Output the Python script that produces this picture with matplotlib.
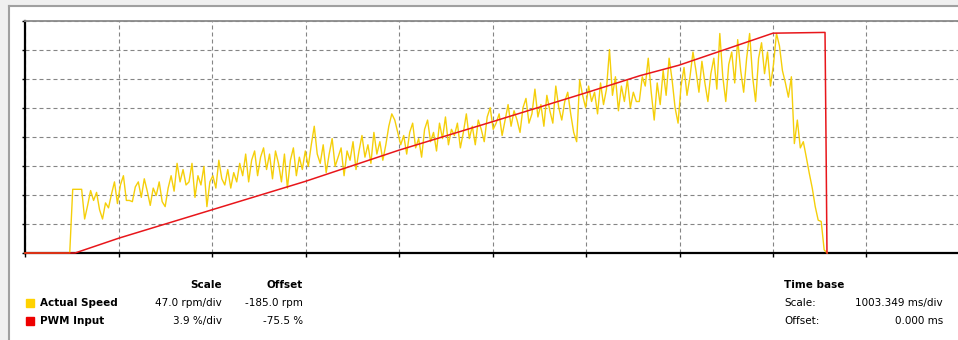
import numpy as np
import matplotlib
matplotlib.use("Agg")
import matplotlib.pyplot as plt
from matplotlib.lines import Line2D
from matplotlib.patches import Rectangle

# channel settings shown under the screen
speed_scale = 47.0      # rpm/div
speed_offset = -185.0   # rpm
pwm_scale = 3.9         # %/div
pwm_offset = -75.5      # %
time_scale = 1003.349   # ms/div
time_offset = 0.000     # ms
sample_ms = 32.0

# actual speed samples (rpm), one every sample_ms
speed_rpm = [0] * 16 + [
    288, 288, 288, 288, 240, 262, 286, 270, 283, 255, 240, 266, 258,
    280, 300, 265, 295, 310, 270, 270, 268, 292, 300, 275, 305, 285, 262, 290, 278, 300, 268, 260, 290,
    310, 285, 330, 300, 320, 295, 300, 330, 275, 310, 295, 325, 260, 300, 310, 290, 335, 305, 295, 320,
    290, 315, 300,
    330, 310, 345, 300, 335, 350, 310, 340, 355, 320, 345, 305, 350, 330, 300, 345, 290, 335, 355, 310,
    340, 320, 350, 325, 360, 390, 345,
    330, 360, 315, 345, 370, 325, 340, 355, 310, 350, 335, 365, 320, 350, 375, 340, 360, 330, 380, 345,
    365, 335, 360, 390, 410, 400, 380,
    360, 375, 345, 380, 395, 355, 370, 340, 385, 400, 365, 380, 350, 395, 370, 405, 360, 385, 375, 395,
    355, 380, 410, 370, 390, 360, 400, 385, 365, 405,
    420, 385, 395, 410, 375, 400, 425, 390, 415, 400, 380, 420, 435, 395, 410, 450, 405, 425, 390, 440,
    415, 395, 455, 420, 400, 430, 445, 410, 380, 365,
    465, 440, 420, 455, 430, 445, 410, 460, 425, 450, 514, 440, 470, 415, 455, 430, 465, 420, 445, 430,
    430, 470, 455, 500, 445, 400, 460, 425, 480, 440, 500, 465, 420, 395, 455, 485, 440, 470, 510, 480,
    445, 495, 460, 430, 475, 500, 450,
    540, 470, 430, 490, 510, 460, 530, 480, 445, 500, 540, 470, 430, 500, 525, 475, 510, 455, 490, 540,
    520, 480, 460,
    437, 470, 362, 400, 355, 365, 340, 314, 290, 260, 238, 236, 190, 0,
]

# PWM input ramp (ms, %)
pwm_time_ms = [0, 530, 537, 1009, 2007, 3005, 4013, 5011, 6020, 6600, 7018, 8027, 8585, 8596, 8606]
pwm_pct = [0, 0, 75.5, 77.5, 81.3, 85.1, 89.3, 93.1, 97.0, 99.3, 100.7, 105.0, 105.1, 90.3, 0]

n_xdiv, n_ydiv = 10, 8
W, H = 958, 340


def fx(x):
    return x / W


def fy(y):
    return 1 - y / H


speed_t = time_offset + np.arange(len(speed_rpm)) * sample_ms
speed_div = np.clip((np.array(speed_rpm) + speed_offset) / speed_scale, 0, n_ydiv)
pwm_div = np.clip((np.array(pwm_pct) + pwm_offset) / pwm_scale, 0, n_ydiv)

fig = plt.figure(figsize=(W / 100, H / 100), dpi=100)
fig.patch.set_facecolor("white")

# window frame
fig.patches.append(Rectangle((0, fy(5)), 1, 1, transform=fig.transFigure, color="#f0f0f0", zorder=0))
fig.patches.append(Rectangle((0, 0), fx(8), 1, transform=fig.transFigure, color="#f0f0f0", zorder=0))
fig.lines.append(Line2D([fx(8.5), 1], [fy(6), fy(6)], transform=fig.transFigure, color="#a0a0a0", lw=1.5))
fig.lines.append(Line2D([fx(9), fx(9)], [0, fy(6)], transform=fig.transFigure, color="#a0a0a0", lw=1.5))

ax = fig.add_axes([fx(25), fy(253), (n_xdiv * 93.5) / W, 232.5 / H])
ax.set_xlim(0, n_xdiv * time_scale)
ax.set_ylim(0, n_ydiv)
ax.set_xticks(np.arange(n_xdiv + 1) * time_scale)
ax.set_yticks(np.arange(n_ydiv + 1))
ax.tick_params(axis="x", length=3, width=1, color="black", labelbottom=False)
ax.tick_params(axis="y", length=2, width=1, color="black", labelleft=False)
ax.grid(True, color="#858585", lw=0.8, linestyle=(0, (3.6, 2.7)))
ax.set_axisbelow(True)
for side in ("left", "bottom"):
    ax.spines[side].set_color("black")
    ax.spines[side].set_linewidth(1.6)
ax.spines["top"].set_color("#8a8a8a")
ax.spines["top"].set_linewidth(1.3)
ax.spines["right"].set_visible(False)

ax.plot(speed_t, speed_div, color="#f5cf0a", lw=1.0, zorder=3, clip_on=False)
ax.plot(pwm_time_ms, pwm_div, color="#e8161b", lw=1.1, zorder=4, clip_on=False)

# channel legend
fs = 7.5
fig.text(fx(222), fy(285), "Scale", ha="right", va="center", fontsize=fs, fontweight="bold")
fig.text(fx(303), fy(285), "Offset", ha="right", va="center", fontsize=fs, fontweight="bold")
channels = [
    ("Actual Speed", "#ffd200", f"{speed_scale:.1f} rpm/div", f"{speed_offset:.1f} rpm", 303),
    ("PWM Input", "#ee0000", f"{pwm_scale:.1f} %/div", f"{pwm_offset:.1f} %", 321),
]
for name, col, sc, off, y in channels:
    fig.patches.append(Rectangle((fx(26), fy(y + 4)), fx(8), 8 / H, transform=fig.transFigure, color=col))
    fig.text(fx(40), fy(y), name, ha="left", va="center", fontsize=fs, fontweight="bold")
    fig.text(fx(222), fy(y), sc, ha="right", va="center", fontsize=fs)
    fig.text(fx(303), fy(y), off, ha="right", va="center", fontsize=fs)

fig.text(fx(784), fy(285), "Time base", ha="left", va="center", fontsize=fs, fontweight="bold")
fig.text(fx(784), fy(303), "Scale:", ha="left", va="center", fontsize=fs)
fig.text(fx(943), fy(303), f"{time_scale:.3f} ms/div", ha="right", va="center", fontsize=fs)
fig.text(fx(784), fy(321), "Offset:", ha="left", va="center", fontsize=fs)
fig.text(fx(943), fy(321), f"{time_offset:.3f} ms", ha="right", va="center", fontsize=fs)

fig.savefig("out.png", dpi=100)
